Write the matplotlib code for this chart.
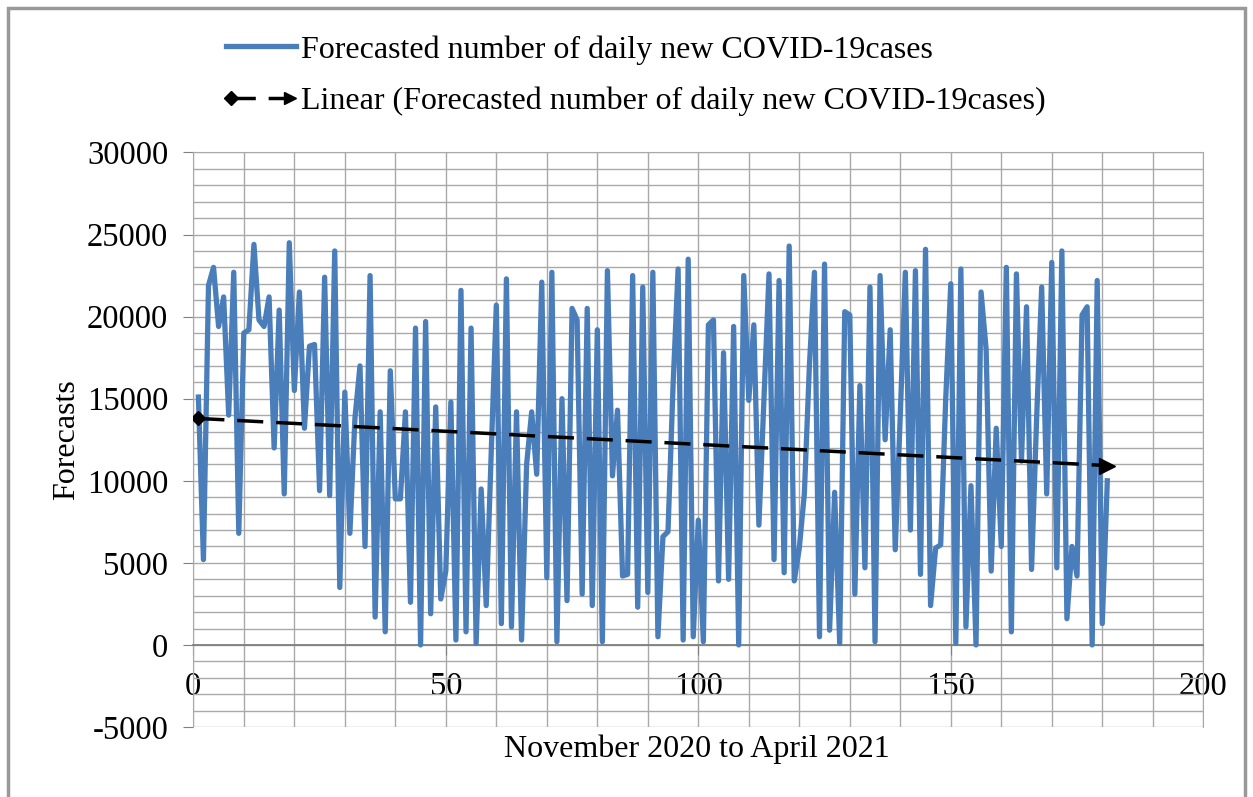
import numpy as np
import matplotlib
matplotlib.use("Agg")
from matplotlib import pyplot as plt
from matplotlib.lines import Line2D
from matplotlib.legend_handler import HandlerBase
from matplotlib.patches import Rectangle
from matplotlib.ticker import MultipleLocator

plt.rcParams['font.family'] = ['Liberation Serif', 'DejaVu Serif']
plt.rcParams['axes.unicode_minus'] = False

# forecasted daily new cases, Nov 2020 - Apr 2021
cases = [
    15100, 5200, 21900, 23000, 19400, 21200, 14000, 22700, 6800, 19000,
    19200, 24400, 19800, 19400, 21200, 12000, 20400, 9200, 24500, 15500,
    21500, 13200, 18200, 18300, 9400, 22400, 9100, 24000, 3500, 15400,
    6800, 13800, 17000, 6000, 22500, 1700, 14200, 800, 16700, 8900,
    8900, 14200, 2600, 19300, 0, 19700, 1900, 14500, 2800, 4500,
    14800, 300, 21600, 800, 19300, 100, 9500, 2400, 11800, 20700,
    1300, 22300, 1100, 14200, 300, 11000, 14200, 10400, 22100, 4100,
    22700, 200, 15000, 2700, 20500, 19800, 3100, 20500, 2400, 19200,
    200, 22800, 10300, 14300, 4200, 4300, 22500, 2300, 21800, 3200,
    22700, 500, 6600, 6900, 15800, 22900, 300, 23500, 500, 7600,
    200, 19500, 19800, 3900, 17800, 4000, 19400, 0, 22500, 14900,
    19500, 7300, 15000, 22600, 5200, 22200, 4400, 24300, 3900, 5900,
    9200, 17000, 22700, 500, 23200, 900, 9300, 100, 20300, 20100,
    3100, 15800, 4700, 21800, 200, 22500, 12500, 19200, 5800, 14000,
    22700, 7000, 22800, 4300, 24100, 2400, 5900, 6100, 15000, 22000,
    100, 22900, 1100, 9700, 0, 21500, 18000, 4500, 13200, 6000,
    23000, 800, 22600, 11200, 20600, 4600, 13800, 21800, 9200, 23300,
    4700, 24000, 1600, 6000, 4200, 20100, 20600, 0, 22200, 1300,
    10000,
]
days = np.arange(1, len(cases) + 1)

series_label = "Forecasted number of daily new COVID-19cases"
trend_label = "Linear (Forecasted number of daily new COVID-19cases)"
blue = '#4a7ebb'
grid_col = '#a9a9a9'


class TrendHandler(HandlerBase):
    # dashed line with a diamond at the start and an arrow head at the end
    def create_artists(self, legend, orig_handle, xdescent, ydescent,
                       width, height, fontsize, trans):
        x0 = -xdescent + 4
        x1 = -xdescent + width - 4
        y = -ydescent + height / 2
        shaft = Line2D([x0, x1], [y, y], color='black', lw=2.5,
                       dashes=(7, 3.7), transform=trans)
        tail = Line2D([x0], [y], marker='D', ms=7, color='black', transform=trans)
        head = Line2D([x1], [y], marker='>', ms=9, color='black', transform=trans)
        return [shaft, tail, head]


fig = plt.figure(figsize=(12.53, 7.97), dpi=100)
ax = fig.add_axes([0.1543, 0.0878, 0.806, 0.7209])

ax.plot(days, cases, color=blue, lw=3.8, solid_joinstyle='round', zorder=3)

slope, icpt = np.polyfit(days, cases, 1)
trend = slope * days + icpt
ax.plot(days, trend, color='black', lw=2.5, dashes=(7.5, 3.7), zorder=4)
ax.plot(days[0], trend[0], marker='D', ms=7, color='black', zorder=5)
ax.plot(days[-1], trend[-1], marker='>', ms=11, color='black', zorder=5)

ax.set_xlim(0, 200)
ax.set_ylim(-5000, 30000)
ax.xaxis.set_major_locator(MultipleLocator(50))
ax.xaxis.set_minor_locator(MultipleLocator(10))
ax.yaxis.set_major_locator(MultipleLocator(5000))
ax.yaxis.set_minor_locator(MultipleLocator(1000))
ax.grid(True, which='both', color=grid_col, lw=1)
ax.set_axisbelow(True)

for s in ['top', 'right', 'left']:
    ax.spines[s].set_color(grid_col)
ax.spines['bottom'].set_position(('data', 0))
ax.spines['bottom'].set_color('#808080')
ax.spines['bottom'].set_linewidth(1.3)

ax.tick_params(axis='y', which='major', direction='out', length=7,
               pad=11, labelsize=23.5, color='#808080')
ax.tick_params(axis='x', which='major', direction='out', length=7,
               pad=12, labelsize=23.5, color='#808080')
ax.tick_params(which='minor', length=0)

ax.set_ylabel("Forecasts", fontsize=23, labelpad=4)
fig.text(0.5565, 0.06, "November 2020 to April 2021", fontsize=23,
         ha='center', va='center')

handles = [Line2D([], [], color=blue, lw=3.8), Line2D([], [], color='black')]
fig.legend(handles, [series_label, trend_label], loc='upper left',
           bbox_to_anchor=(0.180, 0.956), frameon=False, fontsize=23,
           handlelength=2.2, handletextpad=0.17, labelspacing=0.7,
           borderpad=0, borderaxespad=0,
           handler_map={handles[1]: TrendHandler()})

# outer frame of the picture
fig.add_artist(Rectangle((8 / 1253, -0.02), 1237 / 1253, 1.02 - 8 / 797,
                         transform=fig.transFigure, fill=False,
                         edgecolor='#999999', lw=2.5))

fig.savefig("out.png", dpi=100)
